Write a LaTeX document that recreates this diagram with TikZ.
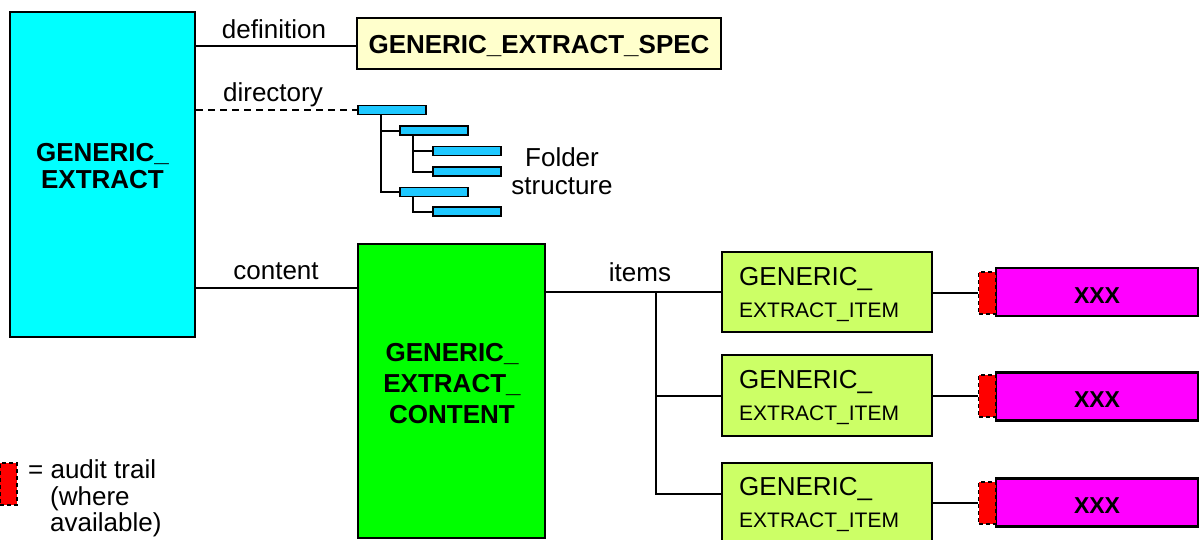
\documentclass[tikz,border=0pt]{standalone}
\usepackage{fontspec}
\setmainfont{Liberation Sans}
\definecolor{cyanbox}{RGB}{0,255,255}
\definecolor{specfill}{RGB}{255,255,204}
\definecolor{barfill}{RGB}{30,200,255}
\definecolor{greenbox}{RGB}{0,255,0}
\definecolor{itemfill}{RGB}{204,255,102}
\definecolor{xxxfill}{RGB}{255,0,255}
\definecolor{tabred}{RGB}{255,0,0}
\begin{document}
\begin{tikzpicture}[x=1pt,y=-1pt,
  box/.style={draw=black,line width=2.2pt,inner sep=0pt,rectangle},
  bar/.style={box,fill=barfill,line width=1.8pt,minimum width=68pt,minimum height=9pt},
  item/.style={box,fill=itemfill,minimum width=210pt,minimum height=80pt},
  xxx/.style={box,fill=xxxfill,minimum width=202pt,minimum height=48pt},
  audittab/.style={rectangle,inner sep=0pt,fill=tabred,draw=black,line width=1.6pt,dash pattern=on 4pt off 3pt,minimum width=17pt,minimum height=42pt},
  conn/.style={draw=black,line width=2pt},
  lbl/.style={inner sep=0pt,font=\fontsize{26}{30}\selectfont},
  blbl/.style={inner sep=0pt,font=\fontsize{26}{30}\selectfont\bfseries},
  xlbl/.style={inner sep=0pt,font=\fontsize{23}{27}\selectfont\bfseries},
  slbl/.style={inner sep=0pt,font=\fontsize{21}{24}\selectfont}]
\useasboundingbox (0,0) rectangle (1199,539);

% main boxes
\node[box,fill=cyanbox,minimum width=185pt,minimum height=325pt] (ge) at (102.5,174.5) {};
\node[blbl,anchor=base] (ge1) at (102.5,161) {GENERIC\_};
\node[blbl,anchor=base] (ge2) at (102.5,188) {EXTRACT};

\node[box,fill=specfill,minimum width=364pt,minimum height=51pt] (spec) at (539,43.5) {};
\node[blbl,anchor=base] (spect) at (539,53) {GENERIC\_EXTRACT\_SPEC};

\node[box,fill=greenbox,minimum width=187pt,minimum height=294pt] (gc) at (451.5,391) {};
\node[blbl,anchor=base] (gc1) at (452,361) {GENERIC\_};
\node[blbl,anchor=base] (gc2) at (452,392) {EXTRACT\_};
\node[blbl,anchor=base] (gc3) at (452,423) {CONTENT};

% folder structure
\node[bar] (b1) at (392,110) {};
\node[bar] (b2) at (434,130.5) {};
\node[bar] (b3) at (467,151) {};
\node[bar] (b4) at (467,171.5) {};
\node[bar] (b5) at (434,192) {};
\node[bar] (b6) at (467,211.5) {};
\coordinate (t1) at (381,0);
\coordinate (t2) at (413,0);
\draw[conn] (b1.south -| t1) |- (b5.west);
\draw[conn] (b2.west -| t1) -- (b2.west);
\draw[conn] (b2.south -| t2) |- (b4.west);
\draw[conn] (b3.west -| t2) -- (b3.west);
\draw[conn] (b5.south -| t2) |- (b6.west);
\node[lbl,anchor=base] (fs1) at (562,166) {Folder};
\node[lbl,anchor=base] (fs2) at (562,194) {structure};

% connectors from GENERIC_EXTRACT
\coordinate (ydef) at (0,46);
\coordinate (ycon) at (0,288);
\draw[conn] (ge.east |- ydef) -- (spec.west |- ydef);
\draw[conn,dash pattern=on 7pt off 5pt] (ge.east |- b1.west) -- (b1.west);
\draw[conn] (ge.east |- ycon) -- (gc.west |- ycon);
\node[lbl,anchor=base] (ldef) at (274,38.5) {definition};
\node[lbl,anchor=base] (ldir) at (273,101) {directory};
\node[lbl,anchor=base] (lcon) at (276,279) {content};

% items
\node[item] (i1) at (827,292) {};
\node[item,minimum height=81pt] (i2) at (827,395.5) {};
\node[item] (i3) at (827,503) {};
\foreach \n/\ya/\yb in {i1/285/317, i2/388/420, i3/495/527}{
  \node[lbl,anchor=base west] (\n a) at (739,\ya) {GENERIC\_};
  \node[slbl,anchor=base west] (\n b) at (739,\yb) {EXTRACT\_ITEM};
}
\coordinate (j) at (656,292);
\coordinate (y3) at (0,494);
\draw[conn] (gc.east |- i1.west) -- (i1.west);
\draw[conn] (j) |- (i2.west);
\draw[conn] (j) |- (i3.west |- y3);
\node[lbl,anchor=base] (litems) at (640,281) {items};

% audit tabs and XXX boxes
\node[xxx] (x1) at (1097,292) {};
\node[xxx] (x2) at (1097,396.5) {};
\node[xxx] (x3) at (1097,502.5) {};
\node[audittab] (a1) at (987,293) {};
\node[audittab] (a2) at (987,396) {};
\node[audittab] (a3) at (987,503) {};
\node[xlbl,anchor=base] (x1t) at (1097,303) {XXX};
\node[xlbl,anchor=base] (x2t) at (1097,407.5) {XXX};
\node[xlbl,anchor=base] (x3t) at (1097,513.5) {XXX};
\draw[conn] (i1.east |- a1.west) -- (a1.west);
\draw[conn] (i2.east |- a2.west) -- (a2.west);
\draw[conn] (i3.east |- a3.west) -- (a3.west);

% legend
\node[audittab] (leg) at (8.5,484) {};
\node[lbl,anchor=base west] (lg1) at (28,478) {= audit trail};
\node[lbl,anchor=base west] (lg2) at (50,505) {(where};
\node[lbl,anchor=base west] (lg3) at (50,531) {available)};
\end{tikzpicture}
\end{document}
